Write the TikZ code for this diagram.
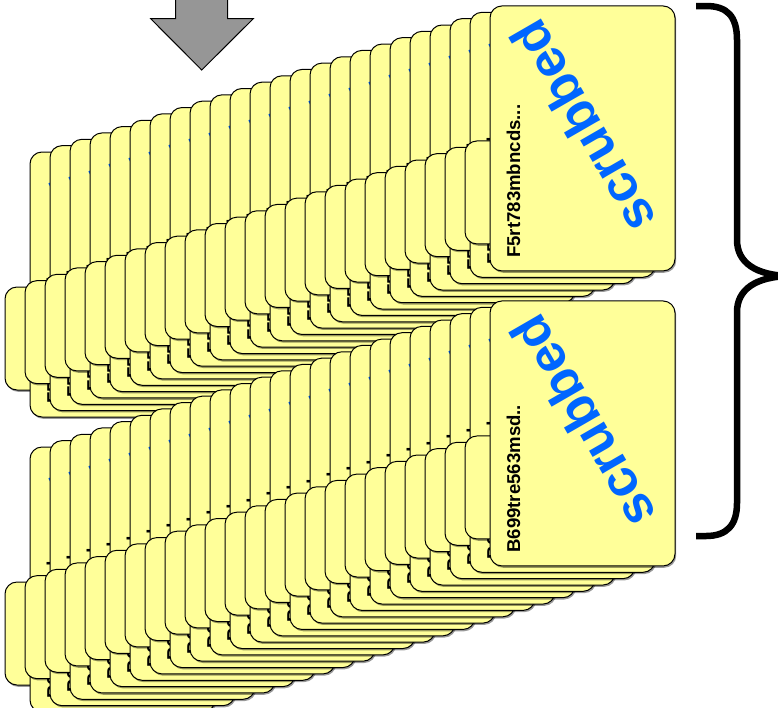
\documentclass[tikz,border=0pt]{standalone}
\usepackage{fontspec}
\setmainfont{Liberation Sans}
\definecolor{cardfill}{RGB}{255,255,153}
\definecolor{scrub}{RGB}{0,102,255}
\definecolor{arrowgray}{RGB}{150,150,150}
\tikzset{
  cardbox/.style={draw=black, line width=1pt, fill=cardfill, rounded corners=12pt},
  cardshade/.style={fill=black, opacity=0.4, rounded corners=12pt},
  scrubtxt/.style={text=scrub, font=\bfseries\fontsize{52}{52}\selectfont, rotate=120, inner sep=0pt},
  codetxt/.style={font=\bfseries\fontsize{18.6}{18.6}\selectfont, rotate=90, anchor=base west, inner sep=0pt},
  bracestroke/.style={draw=black, line width=6.5pt, line cap=butt},
  downarrow/.style={draw=black, line width=1pt, fill=arrowgray, line join=miter}
}
\newcommand\cardA[4]{%
  \fill[cardshade] ({#1+1.2},{#2+1.8}) rectangle ++(185,265);
  \draw[cardbox] (#1,#2) rectangle ++(185,265);
  \node[scrubtxt] (s#4) at ({#1+92.5},{#2+121}) {scrubbed};
  \node[codetxt] (c#4) at ({#1+30},{#2+252}) {#3};
}
\newcommand\cardB[2]{%
  \fill[cardshade] ({#1+1.2},{#2+1.8}) rectangle ++(185,103);
  \draw[cardbox] (#1,#2) rectangle ++(185,103);
}
\begin{document}
\begin{tikzpicture}[x=1pt,y=-1pt]
\useasboundingbox (0,0) rectangle (778,707);
\clip (0,0) rectangle (778,707);
% group 1
\foreach \j in {0,...,23}{
  \cardB{5+20*\j}{287-6.35*\j}
  \cardA{30+20*\j}{152-6.35*\j}{F5rt783mbncds...}{a\j}
}
% group 2
\foreach \j in {0,...,23}{
  \cardB{5+20*\j}{582-6.35*\j}
  \cardA{30+20*\j}{447-6.35*\j}{B699tre563msd..}{b\j}
}
% arrow
\draw[downarrow] (175.7,-5) -- (227.7,-5) -- (227.7,18.7) -- (253.3,18.7)
  -- (201.7,70) -- (150.7,18.7) -- (175.7,18.7) -- cycle;
% brace
\coordinate (bt) at (696,6);
\coordinate (bm) at (792,276);
\coordinate (bb) at (696,536);
\draw[bracestroke] (bt) -- (706,6) .. controls (727,6) and (737,16) .. (737,40)
  -- (737,240) .. controls (737,262) and (755,276) .. (bm)
  .. controls (755,276) and (737,290) .. (737,312)
  -- (737,503) .. controls (737,525) and (727,536) .. (706,536) -- (bb);
\end{tikzpicture}
\end{document}
